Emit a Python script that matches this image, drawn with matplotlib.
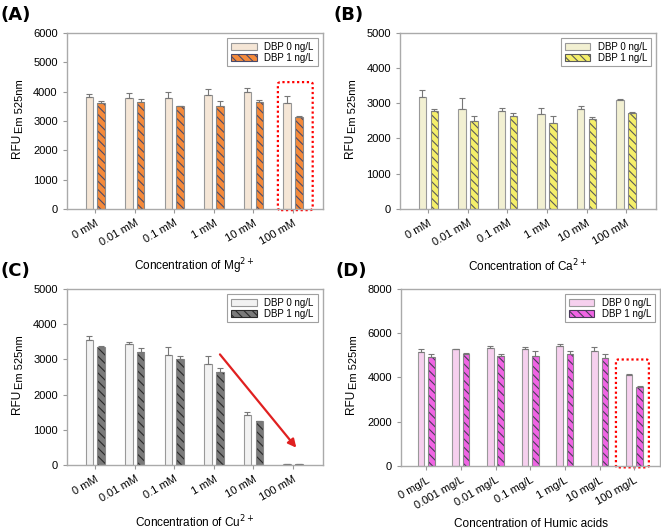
import numpy as np
import matplotlib
matplotlib.use("Agg")
import matplotlib.pyplot as plt
from matplotlib.patches import FancyBboxPatch

plt.rcParams['font.family'] = ['Liberation Sans', 'DejaVu Sans']
plt.rcParams['hatch.linewidth'] = 0.8

# ---- data ----
mm_labels = ["0 mM", "0.01 mM", "0.1 mM", "1 mM", "10 mM", "100 mM"]
ha_labels = ["0 mg/L", "0.001 mg/L", "0.01 mg/L", "0.1 mg/L", "1 mg/L", "10 mg/L", "100 mg/L"]

mg_0 = [3820, 3780, 3770, 3880, 3980, 3620]
mg_0_err = [80, 160, 230, 200, 130, 220]
mg_1 = [3610, 3640, 3490, 3510, 3640, 3120]
mg_1_err = [50, 90, 20, 150, 70, 40]

ca_0 = [3180, 2840, 2780, 2700, 2830, 3080]
ca_0_err = [200, 300, 90, 160, 80, 30]
ca_1 = [2790, 2510, 2640, 2440, 2540, 2720]
ca_1_err = [60, 120, 80, 190, 80, 20]

cu_0 = [3560, 3440, 3130, 2860, 1430, 20]
cu_0_err = [110, 60, 210, 220, 60, 5]
cu_1 = [3340, 3200, 3010, 2640, 1250, 30]
cu_1_err = [40, 110, 70, 120, 10, 10]

ha_0 = [5150, 5270, 5330, 5290, 5420, 5200, 4110]
ha_0_err = [150, 20, 80, 100, 110, 170, 60]
ha_1 = [4940, 5080, 4990, 4950, 5060, 4880, 3570]
ha_1_err = [100, 30, 60, 250, 150, 190, 50]

HATCH = "\\" * 4


def panel(rect, labels, v0, e0, v1, e1, c0, c1, hc, ymax, ystep, xlabel, tag):
    ax = fig.add_axes(rect)
    x = np.arange(len(labels))
    w = 0.19
    ekw = dict(ecolor="#777777", elinewidth=0.8, capthick=0.8)
    ax.bar(x - 0.15, v0, w, yerr=[np.zeros(len(e0)), e0], color=c0,
           edgecolor="#999999", linewidth=0.8, capsize=2.5, error_kw=ekw)
    # hatch layer in a darker colour, then outline
    ax.bar(x + 0.15, v1, w, color=c1, edgecolor=hc, linewidth=0, hatch=HATCH)
    ax.bar(x + 0.15, v1, w, yerr=[np.zeros(len(e1)), e1], fill=False,
           edgecolor="#888888", linewidth=0.8, capsize=2.5, error_kw=ekw)
    # legend handles
    ax.bar([-5], [0], color=c0, edgecolor="#999999", linewidth=0.8, label="DBP 0 ng/L")
    ax.bar([-5], [0], color=c1, edgecolor=hc, linewidth=0.8, hatch=HATCH,
           label="DBP 1 ng/L")
    ax.set_xlim(-0.72, len(labels) - 1 + 0.75)
    ax.set_ylim(0, ymax)
    ax.set_yticks(np.arange(0, ymax + 1, ystep))
    ax.set_xticks(x)
    ax.set_xticklabels(labels, rotation=30, ha="right", rotation_mode="anchor",
                       fontsize=8)
    ax.tick_params(axis="y", labelsize=8, length=3, color="#999999")
    ax.tick_params(axis="x", length=3, color="#999999")
    for s in ax.spines.values():
        s.set_color("#aaaaaa")
        s.set_linewidth(1.0)
    # y label: "RFU" with a large subscript
    ax.text(-0.195, 0.36, "RFU", rotation=90, ha="center", va="center",
            fontsize=8.5, transform=ax.transAxes)
    ax.text(-0.182, 0.585, "Em 525nm", rotation=90, ha="center", va="center",
            fontsize=8, transform=ax.transAxes)
    ax.set_xlabel(xlabel, fontsize=8.5, va="center")
    ax.xaxis.set_label_coords(0.5, -0.325)
    leg = ax.legend(loc="upper right", fontsize=7, frameon=True, fancybox=False,
                    handlelength=2.6, handleheight=0.7, borderpad=0.4,
                    labelspacing=0.1, borderaxespad=0.5)
    leg.get_frame().set_edgecolor("#888888")
    leg.get_frame().set_linewidth(0.8)
    fig.text(rect[0] - 0.1, rect[1] + rect[3] + 0.025, tag, fontsize=13,
             fontweight="bold", family="DejaVu Sans")
    return ax


fig = plt.figure(figsize=(6.61, 5.29), dpi=100)

axA = panel([0.101, 0.605, 0.387, 0.333], mm_labels, mg_0, mg_0_err, mg_1, mg_1_err,
            "#f5e6d6", "#f58a3a", "#4a4a6a", 6000, 1000,
            r"Concentration of Mg$^{2+}$", "(A)")
axB = panel([0.605, 0.605, 0.387, 0.333], mm_labels, ca_0, ca_0_err, ca_1, ca_1_err,
            "#f2f0d2", "#f5ef6a", "#5a5a5a", 5000, 1000,
            r"Concentration of Ca$^{2+}$", "(B)")
axC = panel([0.101, 0.121, 0.387, 0.333], mm_labels, cu_0, cu_0_err, cu_1, cu_1_err,
            "#f2f2f2", "#7a7a7a", "#2a2a2a", 5000, 1000,
            r"Concentration of Cu$^{2+}$", "(C)")
axD = panel([0.607, 0.119, 0.392, 0.335], ha_labels, ha_0, ha_0_err, ha_1, ha_1_err,
            "#f6d0ee", "#f064e4", "#4a3a5a", 8000, 2000,
            "Concentration of Humic acids", "(D)")

# red dotted highlight boxes
boxA = FancyBboxPatch((4.62, -40), 0.88, 4360, boxstyle="round,pad=0,rounding_size=0.08",
                      fill=False, edgecolor="red", linestyle=(0, (1, 1.2)), linewidth=1.6,
                      clip_on=False, mutation_aspect=800)
axA.add_patch(boxA)
boxD = FancyBboxPatch((5.47, -60), 0.95, 4870, boxstyle="round,pad=0,rounding_size=0.08",
                      fill=False, edgecolor="red", linestyle=(0, (1, 1.2)), linewidth=1.6,
                      clip_on=False, mutation_aspect=1000)
axD.add_patch(boxD)

# red arrow in Cu panel
axC.annotate("", xy=(5.13, 430), xytext=(3.11, 3200),
             arrowprops=dict(arrowstyle="-|>", color="#e02020", lw=1.6,
                             mutation_scale=12))

fig.savefig("out.png", dpi=100)
